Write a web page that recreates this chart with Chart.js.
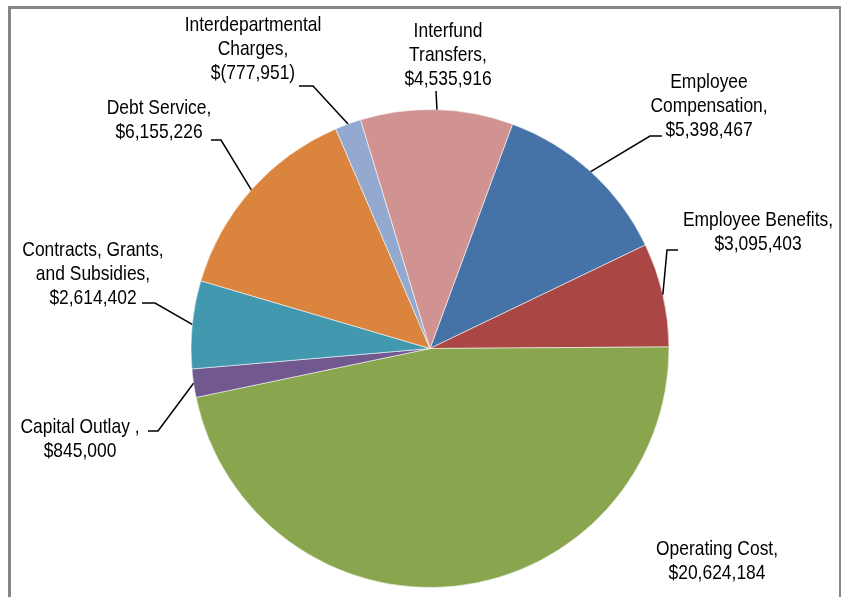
<!DOCTYPE html>
<html>
<head>
<meta charset="utf-8">
<script src="https://cdn.jsdelivr.net/npm/chart.js@4"></script>
<style>
  html, body { margin: 0; padding: 0; background: #fff; }
  #wrap { position: relative; width: 841px; height: 597px; }
</style>
</head>
<body>
<div id="wrap"><canvas id="pie" width="841" height="597"></canvas></div>
<script>
// Budget by category
const categories = [
  'Employee Compensation',
  'Employee Benefits',
  'Operating Cost',
  'Capital Outlay',
  'Contracts, Grants, and Subsidies',
  'Debt Service',
  'Interdepartmental Charges',
  'Interfund Transfers'
];
const amounts = [5398467, 3095403, 20624184, 845000, 2614402, 6155226, -777951, 4535916];
const colors = ['#4572A7', '#AA4643', '#89A54E', '#71588F', '#4198AF', '#DB843D', '#93A9CF', '#D19392'];

// how each label breaks into lines (the amount goes on its own last line)
const labelLines = [
  ['Employee', 'Compensation,'],
  ['Employee Benefits,'],
  ['Operating Cost,'],
  ['Capital Outlay ,'],
  ['Contracts, Grants,', 'and Subsidies,'],
  ['Debt Service,'],
  ['Interdepartmental', 'Charges,'],
  ['Interfund', 'Transfers,']
];

// label placement: text centre x, first line y, and leader line start/elbow (null = no leader)
const labelPos = [
  { x: 709, y: 82,  lead: [[662, 136], [650, 136]] },
  { x: 758, y: 220, lead: [[678, 250], [667, 250]] },
  { x: 717, y: 549, lead: null },
  { x: 80,  y: 427, lead: [[148, 431], [158, 431]] },
  { x: 93,  y: 250, lead: [[142, 303], [155, 303]] },
  { x: 159, y: 108, lead: [[211, 140], [221, 140]] },
  { x: 253, y: 25,  lead: [[299, 86], [313, 86]] },
  { x: 448, y: 31,  lead: [[436, 91], [436, 91]] }
];

// no narrow face installed, so the regular face is squeezed horizontally
const FONT = '21px "Liberation Sans", Arial, sans-serif';
const SQUEEZE = 0.83;
const LINE_H = 24;

const money = v => {
  const s = Math.abs(v).toLocaleString('en-US');
  return v < 0 ? '$(' + s + ')' : '$' + s;
};

const framePlugin = {
  id: 'frame',
  beforeDraw(chart) {
    const ctx = chart.ctx;
    ctx.save();
    ctx.fillStyle = '#868686';
    ctx.fillRect(8, 6, 833, 3);     // top
    ctx.fillRect(8, 6, 3, 591);     // left
    ctx.fillRect(839, 6, 2, 591);   // right
    ctx.restore();
  }
};

const labelPlugin = {
  id: 'sliceLabels',
  afterDatasetsDraw(chart) {
    const ctx = chart.ctx;
    const arcs = chart.getDatasetMeta(0).data;
    ctx.save();
    ctx.font = FONT;
    ctx.fillStyle = '#000';
    ctx.textAlign = 'center';
    ctx.textBaseline = 'middle';
    arcs.forEach((arc, i) => {
      const p = labelPos[i];
      const lines = labelLines[i].concat([money(amounts[i])]);
      lines.forEach((t, k) => {
        ctx.save();
        ctx.translate(p.x, p.y + k * LINE_H);
        ctx.scale(SQUEEZE, 1);
        ctx.fillText(t, 0, 0);
        ctx.restore();
      });
      if (!p.lead) return;
      const { x, y, startAngle, endAngle, outerRadius } = arc.getProps(['x', 'y', 'startAngle', 'endAngle', 'outerRadius'], true);
      const mid = (startAngle + endAngle) / 2;
      const ex = x + Math.cos(mid) * outerRadius;
      const ey = y + Math.sin(mid) * outerRadius;
      ctx.beginPath();
      ctx.moveTo(p.lead[0][0], p.lead[0][1]);
      ctx.lineTo(p.lead[1][0], p.lead[1][1]);
      ctx.lineTo(ex, ey);
      ctx.strokeStyle = '#000';
      ctx.lineWidth = 1.5;
      ctx.stroke();
    });
    ctx.restore();
  }
};

new Chart(document.getElementById('pie').getContext('2d'), {
  type: 'pie',
  data: {
    labels: categories,
    datasets: [{
      data: amounts,
      backgroundColor: colors,
      borderColor: 'rgba(255,255,255,0.55)',
      borderWidth: 1
    }]
  },
  options: {
    responsive: false,
    animation: false,
    rotation: 20.2,
    layout: { padding: { top: 109, bottom: 9, left: 190.5, right: 171.5 } },
    plugins: {
      legend: { display: false },
      tooltip: { enabled: false }
    }
  },
  plugins: [framePlugin, labelPlugin]
});
</script>
</body>
</html>
